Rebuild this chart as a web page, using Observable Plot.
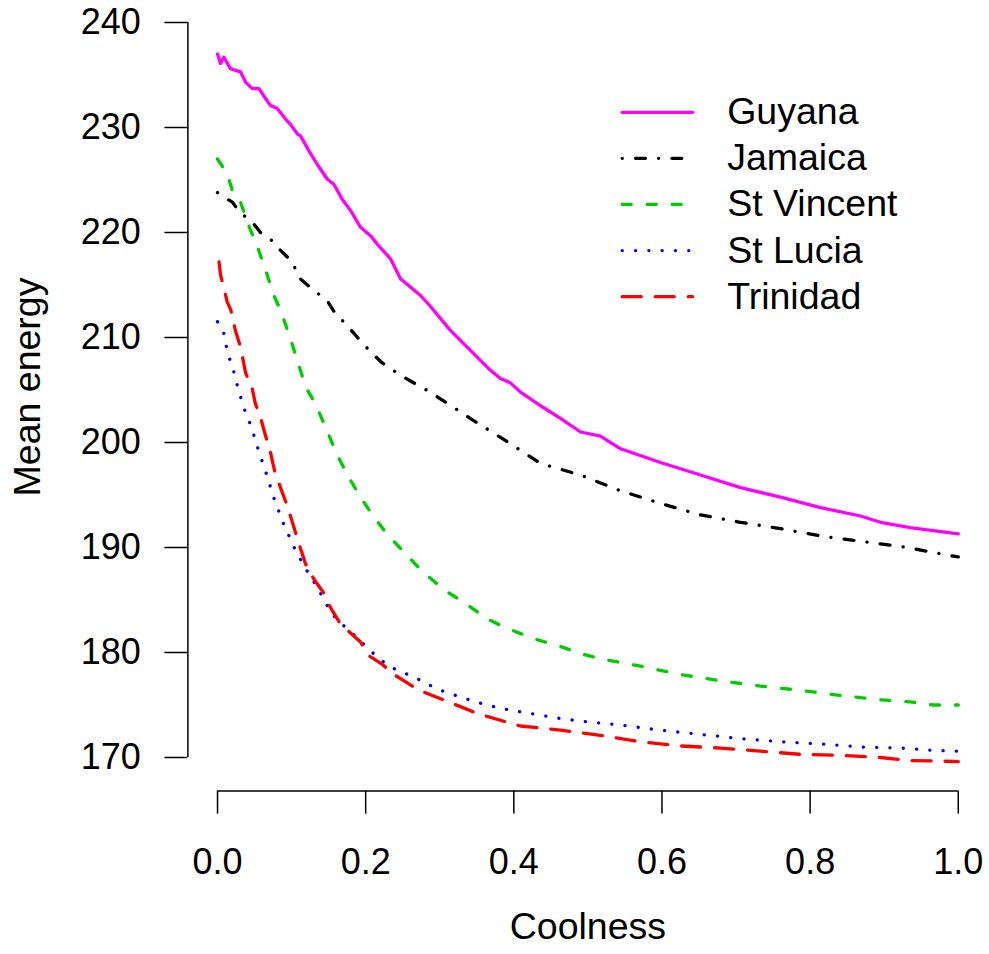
<!DOCTYPE html>
<html>
<head>
<meta charset="utf-8">
<script src="https://cdn.jsdelivr.net/npm/d3@7"></script>
<script src="https://cdn.jsdelivr.net/npm/@observablehq/plot@0.6"></script>
<style>
  html, body { margin: 0; padding: 0; background: #ffffff; }
  #chart { width: 989px; height: 954px; }
</style>
</head>
<body>
<div id="chart"></div>
<script>
// ---- Data ----
const series = ["Guyana", "Jamaica", "St Vincent", "St Lucia", "Trinidad"];
const seriesColors = ["#FF00FF", "#000000", "#00CD00", "#0000FF", "#FF0000"];
const seriesDash = ["none", "0.1 13.2 9.9 13.2", "9 16", "0.1 13.2", "19 14"];

const guyanaX = [0.000,0.004,0.0085,0.0175,0.031,0.038,0.047,0.056,0.0625,0.0715,0.0806,0.0918,0.0985,0.1076,0.112,0.1232,0.1345,0.148,0.157,0.168,0.1795,0.193,0.2065,0.2155,0.2335,0.247,0.274,0.287,0.314,0.341,0.368,0.382,0.395,0.409,0.436,0.463,0.490,0.517,0.544,0.598,0.652,0.706,0.760,0.814,0.868,0.895,0.935,0.966,1.000];
const guyanaY = [237.0,236.1,236.7,235.6,235.3,234.3,233.7,233.7,233.0,232.1,231.8,230.8,230.3,229.4,229.2,227.8,226.5,225.1,224.6,223.2,222.1,220.5,219.7,218.9,217.5,215.6,214.0,213.0,210.7,208.8,206.9,206.1,205.7,204.8,203.5,202.3,201.0,200.6,199.4,198.1,196.9,195.7,194.8,193.8,193.0,192.4,191.9,191.6,191.3];

const jamaicaX = [0.000,0.008,0.020,0.031,0.038,0.049,0.058,0.074,0.085,0.101,0.110,0.128,0.148,0.159,0.173,0.189,0.207,0.222,0.247,0.287,0.341,0.395,0.436,0.490,0.544,0.598,0.652,0.706,0.760,0.814,0.868,0.922,0.946,0.976,1.000];
const jamaicaY = [223.8,223.4,222.9,221.8,221.5,220.8,220.0,219.2,218.3,217.2,215.7,214.6,213.5,212.3,211.3,210.0,208.6,207.6,206.4,204.8,202.3,199.9,198.0,196.9,195.4,194.2,193.1,192.4,191.8,191.1,190.6,190.1,189.8,189.4,189.1];

const vincentX = [0.000,0.013,0.020,0.031,0.043,0.054,0.065,0.076,0.085,0.098,0.110,0.119,0.132,0.148,0.161,0.177,0.193,0.211,0.231,0.274,0.305,0.332,0.364,0.391,0.427,0.458,0.490,0.517,0.571,0.625,0.679,0.733,0.787,0.841,0.895,0.935,0.966,1.000];
const vincentY = [227.0,225.6,224.0,222.9,220.5,218.6,216.4,214.0,212.6,210.0,207.3,205.3,203.7,201.1,198.9,196.7,194.8,192.9,191.1,187.9,186.0,184.8,183.2,182.3,181.3,180.7,179.9,179.4,178.7,177.9,177.3,176.8,176.4,175.9,175.5,175.3,175.0,175.0];

const luciaX = [0.000,0.008,0.011,0.015,0.020,0.026,0.035,0.046,0.056,0.067,0.077,0.089,0.102,0.117,0.134,0.150,0.160,0.184,0.209,0.222,0.237,0.267,0.297,0.330,0.363,0.396,0.430,0.464,0.498,0.544,0.598,0.652,0.706,0.760,0.814,0.868,0.922,0.962,1.000];
const luciaY = [211.5,210.6,209.4,208.2,207.3,205.6,203.4,201.4,199.1,196.8,194.5,192.3,190.2,188.2,186.3,184.2,183.2,181.7,180.0,179.2,178.5,177.6,176.5,175.7,175.0,174.5,174.1,173.7,173.4,173.1,172.6,172.2,171.8,171.5,171.3,171.0,170.9,170.7,170.6];

const trinidadX = [0.002,0.004,0.013,0.018,0.024,0.031,0.038,0.047,0.051,0.058,0.063,0.072,0.078,0.084,0.094,0.112,0.119,0.130,0.144,0.148,0.166,0.193,0.204,0.222,0.236,0.254,0.272,0.312,0.350,0.384,0.409,0.463,0.517,0.571,0.625,0.679,0.733,0.787,0.841,0.895,0.937,0.980,1.000];
const trinidadY = [217.2,216.0,213.4,212.6,210.7,209.1,206.6,205.1,203.7,202.4,201.1,198.9,197.0,195.9,194.0,189.9,188.4,187.0,185.6,184.8,182.7,181.0,179.7,178.9,178.0,177.2,176.4,175.3,174.2,173.5,173.0,172.6,172.1,171.5,171.1,170.9,170.6,170.3,170.2,170.0,169.7,169.65,169.6];

const seriesX = [guyanaX, jamaicaX, vincentX, luciaX, trinidadX];
const seriesY = [guyanaY, jamaicaY, vincentY, luciaY, trinidadY];

const xTicks = [0, 0.2, 0.4, 0.6, 0.8, 1.0];
const yTicks = [170, 180, 190, 200, 210, 220, 230, 240];
const xLabel = "Coolness";
const yLabel = "Mean energy";

// legend placement in data units (like R's legend in user coordinates)
const legendX1 = 0.547, legendX2 = 0.642, legendTextX = 0.688;
const legendTop = 231.45, legendStep = 4.39;

// ---- Build ----
const font = "'Liberation Sans', Arial, Helvetica, sans-serif";
const fsTick = 36;
const fsText = 37.5;
const xDomain = [-0.04, 1.04];
const yDomain = [166.8, 240.8];

const marks = [];

seriesX.forEach((xs, i) => {
  const rows = xs.map((x, j) => ({x, y: seriesY[i][j]}));
  marks.push(Plot.line(rows, {
    x: "x", y: "y",
    stroke: seriesColors[i],
    strokeWidth: 3.3,
    strokeDasharray: seriesDash[i],
    strokeLinecap: "round",
    strokeLinejoin: "round",
    curve: "linear"
  }));
});

// axes
marks.push(Plot.ruleX([xDomain[0]], {y1: yTicks[0], y2: yTicks[yTicks.length - 1], stroke: "#000", strokeWidth: 1.5}));
marks.push(Plot.ruleY([yDomain[0]], {x1: xTicks[0], x2: xTicks[xTicks.length - 1], stroke: "#000", strokeWidth: 1.5}));
marks.push(Plot.axisY({ticks: yTicks, anchor: "left", tickSize: 23, tickPadding: 24, fontSize: fsTick, strokeWidth: 1.5, label: null, tickFormat: d3.format("d")}));
marks.push(Plot.axisX({ticks: xTicks, anchor: "bottom", tickSize: 23, tickPadding: 34, fontSize: fsTick, strokeWidth: 1.5, label: null, tickFormat: d3.format(".1f")}));

// axis titles (centred on the tick span, offset outward in pixels)
const xMid = (xTicks[0] + xTicks[xTicks.length - 1]) / 2;
const yMid = (yTicks[0] + yTicks[yTicks.length - 1]) / 2;
marks.push(Plot.text([xLabel], {x: () => xMid, y: () => yDomain[0], text: d => d, dy: 136, fontSize: fsText, fill: "#000"}));
marks.push(Plot.text([yLabel], {x: () => xDomain[0], y: () => yMid, text: d => d, dx: -160, dy: -3, rotate: -90, fontSize: fsText, fill: "#000"}));

// legend
series.forEach((name, i) => {
  const ly = legendTop - i * legendStep;
  marks.push(Plot.ruleY([ly], {x1: legendX1, x2: legendX2, stroke: seriesColors[i], strokeWidth: 3.3, strokeDasharray: seriesDash[i], strokeLinecap: "round"}));
  marks.push(Plot.text([name], {x: legendTextX, y: ly, text: d => d, textAnchor: "start", fontSize: fsText, fill: "#000"}));
});

const chart = Plot.plot({
  width: 989,
  height: 954,
  marginLeft: 187.4,
  marginRight: 1.6,
  marginTop: 13.6,
  marginBottom: 163.4,
  x: {domain: xDomain, axis: null},
  y: {domain: yDomain, axis: null},
  style: {fontFamily: font, background: "#ffffff", color: "#000", overflow: "visible"},
  marks
});
document.getElementById("chart").appendChild(chart);
</script>
</body>
</html>
